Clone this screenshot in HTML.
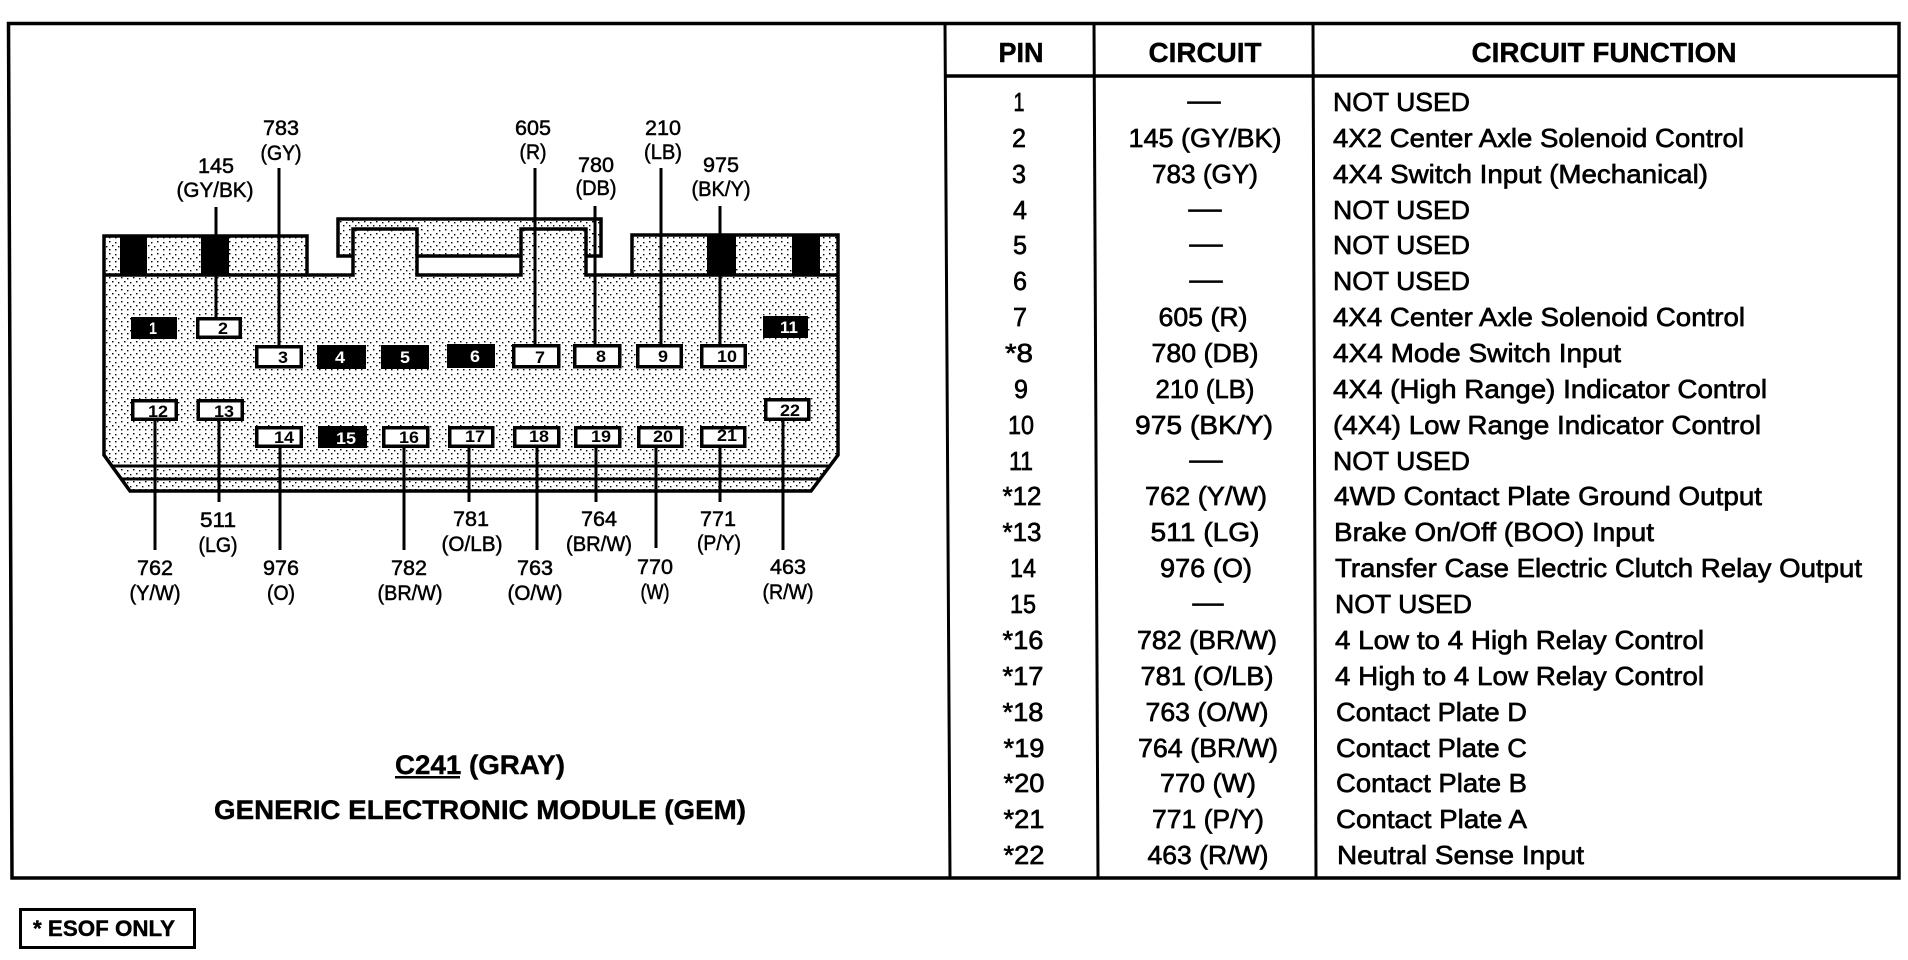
<!DOCTYPE html>
<html lang="en"><head><meta charset="utf-8"><title>C241 Generic Electronic Module</title>
<style>
html,body{margin:0;padding:0;background:#fff;width:1908px;height:960px;overflow:hidden}
svg{display:block}
text{font-family:"Liberation Sans",Arial,sans-serif;fill:#000}
.l{font-size:21px;text-anchor:middle;stroke:#000;stroke-width:.5px}
.t{font-size:26px;stroke:#000;stroke-width:.65px}
.m{font-size:26px;text-anchor:middle;stroke:#000;stroke-width:.65px}
.h{font-size:28px;font-weight:bold;text-anchor:middle;stroke:#000;stroke-width:.4px}
.p{font-size:17px;font-weight:bold;text-anchor:middle}
.r{fill:#fff;stroke:#000;stroke-width:3.5}
.b{fill:#000}
.k{fill:none;stroke:#000;stroke-width:3.5}
.c{fill:none;stroke:#000;stroke-width:3}
</style></head><body>
<svg width="1908" height="960" viewBox="0 0 1908 960" xmlns="http://www.w3.org/2000/svg">
<defs><pattern id="s" width="12" height="12" patternUnits="userSpaceOnUse">
<rect width="12" height="12" fill="#fff"/>
<g fill="#000"><rect x="1" y="1" width="1.5" height="1.4"/><rect x="7" y="2" width="1.4" height="1.4"/><rect x="4" y="5" width="1.5" height="1.4"/><rect x="10" y="6" width="1.4" height="1.4"/><rect x="1" y="9" width="1.4" height="1.4"/><rect x="7" y="9" width="1.5" height="1.4"/></g>
</pattern></defs>

<!-- frame -->
<g stroke="#000" fill="none">
<path d="M8.5 23.5H1899V878H12Z" stroke-width="3.5"/>
<path d="M945 23.5L950 878M1094 23.5L1098 878M1313 23.5L1316 878" stroke-width="3"/>
<path d="M945 76H1899" stroke-width="3.5"/>
</g>

<!-- connector -->
<path d="M338 256V219H601V256Z" fill="url(#s)"/>
<path d="M104 236H307V275H353V229H417V275H521V229H586V275H632V235H838V455L811 491H130L104 455Z" fill="url(#s)"/>
<path d="M417 256H521V275H417Z" fill="#fff"/>
<rect x="120" y="236" width="27" height="39" class="b"/>
<rect x="201" y="236" width="28" height="39" class="b"/>
<rect x="707" y="235" width="29" height="40" class="b"/>
<rect x="792" y="235" width="28" height="40" class="b"/>
<path class="k" d="M353 256H338V219H601V256H586M417 256H521"/>
<path class="k" d="M104 275V236H307V275H353V229H417V275H521V229H586V275H632V235H838V455L811 491H130L104 455V275Z"/>
<path class="k" d="M104 275H307M632 275H838"/>
<path d="M112 466H830M122 479H818" fill="none" stroke="#000" stroke-width="3"/>

<!-- wires -->
<path class="c" d="M216 207V317M279 168V346M535 168V345M595 206V345M661 168V344M720 206V344M155 421V550M219 421V502M280 448V550M404 448V550M469 448V502M537 448V550M596 448V502M656 448V548M720 448V502M783 421V550"/>

<!-- pins -->
<rect x="131" y="317" width="46" height="22" class="b"/>
<rect x="197.75" y="318.75" width="42.5" height="18.5" class="r"/>
<rect x="763" y="316" width="45" height="22" class="b"/>
<rect x="256.75" y="346.75" width="44.5" height="20" class="r"/>
<rect x="317" y="345" width="49" height="24" class="b"/>
<rect x="381" y="345" width="48" height="24" class="b"/>
<rect x="447" y="344" width="48" height="24" class="b"/>
<rect x="513.75" y="345.75" width="45" height="21" class="r"/>
<rect x="574.75" y="345.75" width="45" height="21" class="r"/>
<rect x="637.75" y="345.75" width="43.5" height="21" class="r"/>
<rect x="701.75" y="345.75" width="43.5" height="21" class="r"/>
<rect x="132.75" y="400.75" width="43.5" height="18.5" class="r"/>
<rect x="198.25" y="400.75" width="44" height="18.5" class="r"/>
<rect x="765.75" y="399.75" width="43" height="19.5" class="r"/>
<rect x="256.75" y="427.75" width="44.5" height="18.5" class="r"/>
<rect x="318" y="426" width="49" height="22" class="b"/>
<rect x="383.75" y="427.75" width="44" height="18.5" class="r"/>
<rect x="449.75" y="427.75" width="43" height="18.5" class="r"/>
<rect x="514.75" y="427.75" width="44" height="18.5" class="r"/>
<rect x="575.75" y="427.75" width="44" height="18.5" class="r"/>
<rect x="638.75" y="427.75" width="43" height="18.5" class="r"/>
<rect x="701.75" y="427.75" width="43" height="18.5" class="r"/>

<g>
<text class="p" x="153" y="334" textLength="8" lengthAdjust="spacingAndGlyphs" style="fill:#fff">1</text>
<text class="p" x="223" y="334" textLength="10" lengthAdjust="spacingAndGlyphs">2</text>
<text class="p" x="789" y="333" textLength="18" lengthAdjust="spacingAndGlyphs" style="fill:#fff">11</text>
<text class="p" x="283" y="363" textLength="10" lengthAdjust="spacingAndGlyphs">3</text>
<text class="p" x="340" y="363" textLength="10" lengthAdjust="spacingAndGlyphs" style="fill:#fff">4</text>
<text class="p" x="405" y="363" textLength="10" lengthAdjust="spacingAndGlyphs" style="fill:#fff">5</text>
<text class="p" x="475" y="362" textLength="10" lengthAdjust="spacingAndGlyphs" style="fill:#fff">6</text>
<text class="p" x="540" y="363" textLength="10" lengthAdjust="spacingAndGlyphs">7</text>
<text class="p" x="601" y="362" textLength="10" lengthAdjust="spacingAndGlyphs">8</text>
<text class="p" x="663" y="362" textLength="10" lengthAdjust="spacingAndGlyphs">9</text>
<text class="p" x="727" y="362" textLength="20" lengthAdjust="spacingAndGlyphs">10</text>
<text class="p" x="158" y="417" textLength="20" lengthAdjust="spacingAndGlyphs">12</text>
<text class="p" x="224" y="417" textLength="20" lengthAdjust="spacingAndGlyphs">13</text>
<text class="p" x="790" y="416" textLength="20" lengthAdjust="spacingAndGlyphs">22</text>
<text class="p" x="284" y="443" textLength="20" lengthAdjust="spacingAndGlyphs">14</text>
<text class="p" x="346" y="444" textLength="20" lengthAdjust="spacingAndGlyphs" style="fill:#fff">15</text>
<text class="p" x="409" y="443" textLength="20" lengthAdjust="spacingAndGlyphs">16</text>
<text class="p" x="475" y="442" textLength="20" lengthAdjust="spacingAndGlyphs">17</text>
<text class="p" x="539" y="442" textLength="20" lengthAdjust="spacingAndGlyphs">18</text>
<text class="p" x="601" y="442" textLength="20" lengthAdjust="spacingAndGlyphs">19</text>
<text class="p" x="663" y="442" textLength="20" lengthAdjust="spacingAndGlyphs">20</text>
<text class="p" x="727" y="441" textLength="20" lengthAdjust="spacingAndGlyphs">21</text>
</g>

<!-- wire labels -->
<text class="l" x="216" y="173" textLength="36" lengthAdjust="spacingAndGlyphs">145</text>
<text class="l" x="215" y="197" textLength="77" lengthAdjust="spacingAndGlyphs">(GY/BK)</text>
<text class="l" x="281" y="135" textLength="36" lengthAdjust="spacingAndGlyphs">783</text>
<text class="l" x="281" y="160" textLength="41" lengthAdjust="spacingAndGlyphs">(GY)</text>
<text class="l" x="533" y="135" textLength="36" lengthAdjust="spacingAndGlyphs">605</text>
<text class="l" x="533" y="159" textLength="27" lengthAdjust="spacingAndGlyphs">(R)</text>
<text class="l" x="596" y="172" textLength="36" lengthAdjust="spacingAndGlyphs">780</text>
<text class="l" x="596" y="195" textLength="41" lengthAdjust="spacingAndGlyphs">(DB)</text>
<text class="l" x="663" y="135" textLength="36" lengthAdjust="spacingAndGlyphs">210</text>
<text class="l" x="663" y="159" textLength="38" lengthAdjust="spacingAndGlyphs">(LB)</text>
<text class="l" x="721" y="172" textLength="36" lengthAdjust="spacingAndGlyphs">975</text>
<text class="l" x="721" y="196" textLength="59" lengthAdjust="spacingAndGlyphs">(BK/Y)</text>
<text class="l" x="218" y="527" textLength="36" lengthAdjust="spacingAndGlyphs">511</text>
<text class="l" x="218" y="552" textLength="39" lengthAdjust="spacingAndGlyphs">(LG)</text>
<text class="l" x="155" y="575" textLength="36" lengthAdjust="spacingAndGlyphs">762</text>
<text class="l" x="155" y="600" textLength="51" lengthAdjust="spacingAndGlyphs">(Y/W)</text>
<text class="l" x="281" y="575" textLength="36" lengthAdjust="spacingAndGlyphs">976</text>
<text class="l" x="281" y="600" textLength="28" lengthAdjust="spacingAndGlyphs">(O)</text>
<text class="l" x="409" y="575" textLength="36" lengthAdjust="spacingAndGlyphs">782</text>
<text class="l" x="410" y="600" textLength="65" lengthAdjust="spacingAndGlyphs">(BR/W)</text>
<text class="l" x="471" y="526" textLength="36" lengthAdjust="spacingAndGlyphs">781</text>
<text class="l" x="472" y="551" textLength="61" lengthAdjust="spacingAndGlyphs">(O/LB)</text>
<text class="l" x="535" y="575" textLength="36" lengthAdjust="spacingAndGlyphs">763</text>
<text class="l" x="535" y="600" textLength="55" lengthAdjust="spacingAndGlyphs">(O/W)</text>
<text class="l" x="599" y="526" textLength="36" lengthAdjust="spacingAndGlyphs">764</text>
<text class="l" x="599" y="551" textLength="66" lengthAdjust="spacingAndGlyphs">(BR/W)</text>
<text class="l" x="655" y="574" textLength="36" lengthAdjust="spacingAndGlyphs">770</text>
<text class="l" x="655" y="599" textLength="29" lengthAdjust="spacingAndGlyphs">(W)</text>
<text class="l" x="718" y="526" textLength="36" lengthAdjust="spacingAndGlyphs">771</text>
<text class="l" x="719" y="550" textLength="44" lengthAdjust="spacingAndGlyphs">(P/Y)</text>
<text class="l" x="788" y="574" textLength="36" lengthAdjust="spacingAndGlyphs">463</text>
<text class="l" x="788" y="599" textLength="51" lengthAdjust="spacingAndGlyphs">(R/W)</text>

<!-- title -->
<text x="395" y="774" font-size="27" font-weight="bold" stroke="#000" stroke-width=".4" textLength="170" lengthAdjust="spacingAndGlyphs">C241 (GRAY)</text>
<rect x="395" y="776" width="65" height="2.5" class="b"/>
<text x="214" y="819" font-size="27" font-weight="bold" stroke="#000" stroke-width=".4" textLength="532" lengthAdjust="spacingAndGlyphs">GENERIC ELECTRONIC MODULE (GEM)</text>

<!-- note -->
<rect x="20.5" y="909.5" width="174" height="38" fill="none" stroke="#000" stroke-width="3"/>
<text x="33" y="936" font-size="22" font-weight="bold" stroke="#000" stroke-width=".4" textLength="142" lengthAdjust="spacingAndGlyphs">* ESOF ONLY</text>

<!-- table header -->
<text class="h" x="1021" y="62" textLength="45" lengthAdjust="spacingAndGlyphs">PIN</text>
<text class="h" x="1205" y="62" textLength="113" lengthAdjust="spacingAndGlyphs">CIRCUIT</text>
<text class="h" x="1604" y="62" textLength="265" lengthAdjust="spacingAndGlyphs">CIRCUIT FUNCTION</text>

<!-- pin column -->
<text class="m" x="1019" y="111" textLength="11" lengthAdjust="spacingAndGlyphs">1</text>
<text class="m" x="1019" y="147" textLength="14" lengthAdjust="spacingAndGlyphs">2</text>
<text class="m" x="1019" y="183" textLength="14" lengthAdjust="spacingAndGlyphs">3</text>
<text class="m" x="1020" y="219" textLength="14" lengthAdjust="spacingAndGlyphs">4</text>
<text class="m" x="1020" y="254" textLength="14" lengthAdjust="spacingAndGlyphs">5</text>
<text class="m" x="1020" y="290" textLength="14" lengthAdjust="spacingAndGlyphs">6</text>
<text class="m" x="1020" y="326" textLength="14" lengthAdjust="spacingAndGlyphs">7</text>
<text class="m" x="1019" y="362" textLength="28" lengthAdjust="spacingAndGlyphs">*8</text>
<text class="m" x="1021" y="398" textLength="14" lengthAdjust="spacingAndGlyphs">9</text>
<text class="m" x="1021" y="434" textLength="26" lengthAdjust="spacingAndGlyphs">10</text>
<text class="m" x="1021" y="470" textLength="24" lengthAdjust="spacingAndGlyphs">11</text>
<text class="m" x="1022" y="505" textLength="39" lengthAdjust="spacingAndGlyphs">*12</text>
<text class="m" x="1022" y="541" textLength="39" lengthAdjust="spacingAndGlyphs">*13</text>
<text class="m" x="1023" y="577" textLength="26" lengthAdjust="spacingAndGlyphs">14</text>
<text class="m" x="1023" y="613" textLength="26" lengthAdjust="spacingAndGlyphs">15</text>
<text class="m" x="1023" y="649" textLength="41" lengthAdjust="spacingAndGlyphs">*16</text>
<text class="m" x="1023" y="685" textLength="41" lengthAdjust="spacingAndGlyphs">*17</text>
<text class="m" x="1023" y="721" textLength="41" lengthAdjust="spacingAndGlyphs">*18</text>
<text class="m" x="1024" y="757" textLength="41" lengthAdjust="spacingAndGlyphs">*19</text>
<text class="m" x="1024" y="792" textLength="41" lengthAdjust="spacingAndGlyphs">*20</text>
<text class="m" x="1024" y="828" textLength="41" lengthAdjust="spacingAndGlyphs">*21</text>
<text class="m" x="1024" y="864" textLength="41" lengthAdjust="spacingAndGlyphs">*22</text>

<!-- circuit column -->
<text class="m" x="1204" y="109" textLength="33" lengthAdjust="spacingAndGlyphs">—</text>
<text class="m" x="1205" y="147" textLength="153" lengthAdjust="spacingAndGlyphs">145 (GY/BK)</text>
<text class="m" x="1205" y="183" textLength="106" lengthAdjust="spacingAndGlyphs">783 (GY)</text>
<text class="m" x="1205" y="217" textLength="33" lengthAdjust="spacingAndGlyphs">—</text>
<text class="m" x="1206" y="252" textLength="33" lengthAdjust="spacingAndGlyphs">—</text>
<text class="m" x="1206" y="288" textLength="33" lengthAdjust="spacingAndGlyphs">—</text>
<text class="m" x="1203" y="326" textLength="89" lengthAdjust="spacingAndGlyphs">605 (R)</text>
<text class="m" x="1205" y="362" textLength="107" lengthAdjust="spacingAndGlyphs">780 (DB)</text>
<text class="m" x="1205" y="398" textLength="99" lengthAdjust="spacingAndGlyphs">210 (LB)</text>
<text class="m" x="1204" y="434" textLength="138" lengthAdjust="spacingAndGlyphs">975 (BK/Y)</text>
<text class="m" x="1206" y="468" textLength="33" lengthAdjust="spacingAndGlyphs">—</text>
<text class="m" x="1206" y="505" textLength="122" lengthAdjust="spacingAndGlyphs">762 (Y/W)</text>
<text class="m" x="1205" y="541" textLength="109" lengthAdjust="spacingAndGlyphs">511 (LG)</text>
<text class="m" x="1206" y="577" textLength="92" lengthAdjust="spacingAndGlyphs">976 (O)</text>
<text class="m" x="1208" y="611" textLength="31" lengthAdjust="spacingAndGlyphs">—</text>
<text class="m" x="1207" y="649" textLength="140" lengthAdjust="spacingAndGlyphs">782 (BR/W)</text>
<text class="m" x="1207" y="685" textLength="133" lengthAdjust="spacingAndGlyphs">781 (O/LB)</text>
<text class="m" x="1207" y="721" textLength="123" lengthAdjust="spacingAndGlyphs">763 (O/W)</text>
<text class="m" x="1208" y="757" textLength="140" lengthAdjust="spacingAndGlyphs">764 (BR/W)</text>
<text class="m" x="1208" y="792" textLength="96" lengthAdjust="spacingAndGlyphs">770 (W)</text>
<text class="m" x="1208" y="828" textLength="112" lengthAdjust="spacingAndGlyphs">771 (P/Y)</text>
<text class="m" x="1208" y="864" textLength="121" lengthAdjust="spacingAndGlyphs">463 (R/W)</text>

<!-- function column -->
<text class="t" x="1333" y="111" textLength="137" lengthAdjust="spacingAndGlyphs">NOT USED</text>
<text class="t" x="1333" y="147" textLength="411" lengthAdjust="spacingAndGlyphs">4X2 Center Axle Solenoid Control</text>
<text class="t" x="1333" y="183" textLength="375" lengthAdjust="spacingAndGlyphs">4X4 Switch Input (Mechanical)</text>
<text class="t" x="1333" y="219" textLength="137" lengthAdjust="spacingAndGlyphs">NOT USED</text>
<text class="t" x="1333" y="254" textLength="137" lengthAdjust="spacingAndGlyphs">NOT USED</text>
<text class="t" x="1333" y="290" textLength="137" lengthAdjust="spacingAndGlyphs">NOT USED</text>
<text class="t" x="1333" y="326" textLength="412" lengthAdjust="spacingAndGlyphs">4X4 Center Axle Solenoid Control</text>
<text class="t" x="1333" y="362" textLength="288" lengthAdjust="spacingAndGlyphs">4X4 Mode Switch Input</text>
<text class="t" x="1333" y="398" textLength="434" lengthAdjust="spacingAndGlyphs">4X4 (High Range) Indicator Control</text>
<text class="t" x="1333" y="434" textLength="428" lengthAdjust="spacingAndGlyphs">(4X4) Low Range Indicator Control</text>
<text class="t" x="1333" y="470" textLength="137" lengthAdjust="spacingAndGlyphs">NOT USED</text>
<text class="t" x="1334" y="505" textLength="428" lengthAdjust="spacingAndGlyphs">4WD Contact Plate Ground Output</text>
<text class="t" x="1334" y="541" textLength="320" lengthAdjust="spacingAndGlyphs">Brake On/Off (BOO) Input</text>
<text class="t" x="1335" y="577" textLength="527" lengthAdjust="spacingAndGlyphs">Transfer Case Electric Clutch Relay Output</text>
<text class="t" x="1335" y="613" textLength="137" lengthAdjust="spacingAndGlyphs">NOT USED</text>
<text class="t" x="1335" y="649" textLength="369" lengthAdjust="spacingAndGlyphs">4 Low to 4 High Relay Control</text>
<text class="t" x="1335" y="685" textLength="369" lengthAdjust="spacingAndGlyphs">4 High to 4 Low Relay Control</text>
<text class="t" x="1336" y="721" textLength="191" lengthAdjust="spacingAndGlyphs">Contact Plate D</text>
<text class="t" x="1336" y="757" textLength="191" lengthAdjust="spacingAndGlyphs">Contact Plate C</text>
<text class="t" x="1336" y="792" textLength="191" lengthAdjust="spacingAndGlyphs">Contact Plate B</text>
<text class="t" x="1336" y="828" textLength="191" lengthAdjust="spacingAndGlyphs">Contact Plate A</text>
<text class="t" x="1337" y="864" textLength="247" lengthAdjust="spacingAndGlyphs">Neutral Sense Input</text>
</svg>
</body></html>
